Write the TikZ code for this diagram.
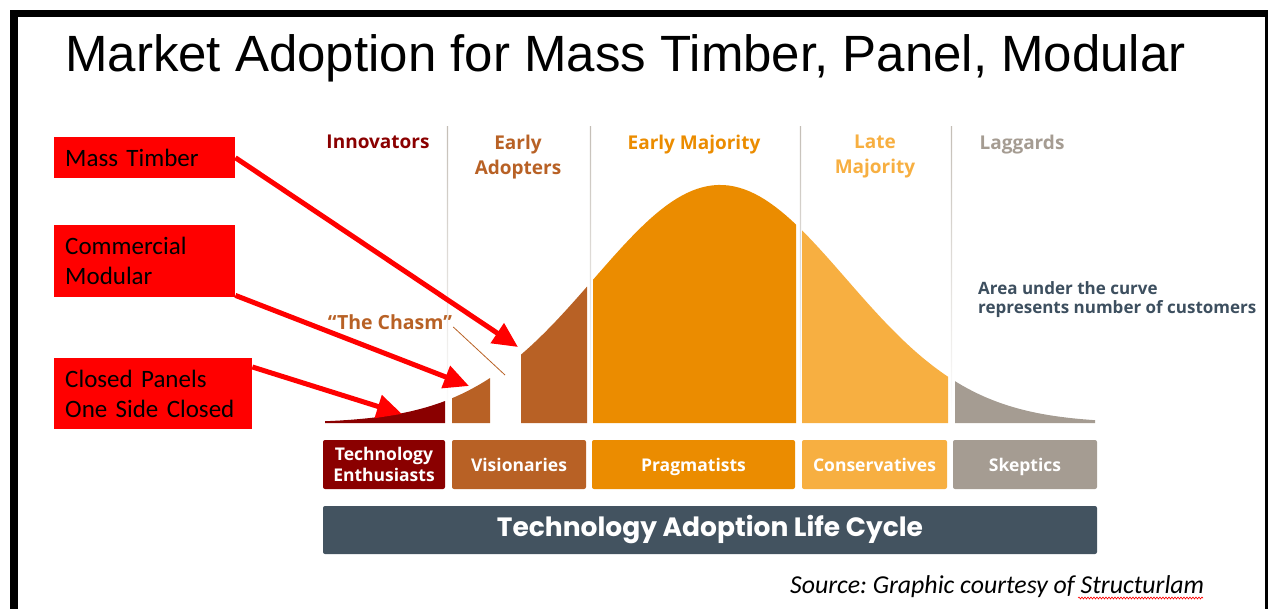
\documentclass[tikz,border=0pt]{standalone}
\usepackage{fontspec}
\setmainfont{Carlito}
\newfontfamily\titlefont{Liberation Sans}
\newfontfamily\labfont{Open Sans}
\newfontfamily\barfont{Poppins}
\usepackage{tikz}
\usetikzlibrary{arrows.meta,positioning,calc,decorations.pathmorphing}
\usepackage{xcolor}
\frenchspacing

\definecolor{innov}{HTML}{8A0000}
\definecolor{adopt}{HTML}{B86125}
\definecolor{earlymaj}{HTML}{EB8C00}
\definecolor{latemaj}{HTML}{F7AF41}
\definecolor{lagg}{HTML}{A59C92}
\definecolor{cyclebar}{HTML}{435360}
\definecolor{areatext}{HTML}{3D4F5F}
\definecolor{sepline}{HTML}{C4BEB6}

% one slice of the bell curve: from, to, colour
\newcommand{\curveslice}[3]{%
  \fill[#3] (#1,423) -- plot[domain=#1:#2, samples=40]
    (\x, {423-238*exp(-0.5*((\x-720)/126)^2)}) -- (#2,423) -- cycle;}

\begin{document}
\begin{tikzpicture}[x=1pt, y=-1pt,
    tagbox/.style={fill=red, anchor=north west, align=left, inner xsep=11pt,
      font=\fontsize{25}{30}\selectfont},
    tagarrow/.style={red, line width=5pt, -{Triangle[length=25pt, width=23pt]}},
    phase/.style={font=\labfont\bfseries\fontsize{19}{25}\selectfont,
      align=center, anchor=north, inner sep=0pt},
    groupbox/.style={rounded corners=2pt, text=white, align=center, inner sep=0pt,
      minimum height=49pt, text depth=0pt, font=\labfont\bfseries\fontsize{17.5}{21}\selectfont},
    sepbar/.style={top color=sepline, middle color=sepline!70, bottom color=white}]
    \useasboundingbox (0,0) rectangle (1269,609);

    % frame
    \fill (10,10) rectangle (1268,17);
    \fill (10,10) rectangle (18,609);
    \fill (1265,10) rectangle (1268,609);

    \node[anchor=base west, inner sep=0pt, font=\titlefont\fontsize{51}{60}\selectfont]
      (title) at (65,72) {Market Adoption for Mass Timber, Panel, Modular};

    % separators
    \shade[sepbar] (446.8,127) rectangle (448,418);
    \shade[sepbar] (589.8,127) rectangle (591,418);
    \shade[sepbar] (799.8,127) rectangle (801,418);
    \shade[sepbar] (950.8,127) rectangle (952,418);

    % phases
    \node[phase, text=innov] (innovators) at (378,135) {Innovators};
    \node[phase, text=adopt] (adopters) at (518,135) {Early\\Adopters};
    \node[phase, text=earlymaj] (earlymaj) at (694,135) {Early Majority};
    \node[phase, text=latemaj] (latemaj) at (875,135) {Late\\Majority};
    \node[phase, text=lagg] (laggards) at (1022,135) {Laggards};

    % curve
    \curveslice{325}{445}{innov}
    \curveslice{452}{490}{adopt}
    \curveslice{521}{587}{adopt}
    \curveslice{593}{796}{earlymaj}
    \curveslice{802}{948}{latemaj}
    \curveslice{955}{1095}{lagg}

    \node[font=\labfont\bfseries\fontsize{19.5}{25}\selectfont, text=adopt, inner sep=0pt]
      (chasm) at (390,322) {“The Chasm”};
    \coordinate (gap) at (505,375);
    \draw[adopt, line width=0.8pt] ([xshift=1pt,yshift=-5pt]chasm.east) -- (gap);

    \node[font=\labfont\bfseries\fontsize{17}{19}\selectfont, text=areatext, align=left,
      anchor=north west, inner sep=0pt] (area) at (978,281)
      {Area under the curve\\represents number of customers};

    % groups
    \node[groupbox, fill=innov, minimum width=122pt] (enth) at (384,464.5) {Technology\\Enthusiasts};
    \node[groupbox, fill=adopt, minimum width=134pt] (vis) at (519,464.5) {Visionaries};
    \node[groupbox, fill=earlymaj, minimum width=203pt] (prag) at (693.5,464.5) {Pragmatists};
    \node[groupbox, fill=latemaj, minimum width=145pt] (cons) at (874.5,464.5) {Conservatives};
    \node[groupbox, fill=lagg, minimum width=144pt] (skep) at (1025,464.5) {Skeptics};

    \node[rounded corners=2pt, fill=cyclebar, text=white, minimum width=774pt, minimum height=48pt,
      font=\barfont\bfseries\fontsize{26.5}{30}\selectfont] (cycle) at (710,530)
      {Technology Adoption Life Cycle};

    % red tags
    \node[tagbox, minimum height=41pt, text width=159pt] (mt) at (54,137) {Mass Timber};
    \node[tagbox, minimum height=72pt, text width=159pt] (cm) at (54,225) {Commercial\\Modular};
    \node[tagbox, minimum height=71pt, text width=176pt] (cp) at (54,358) {Closed Panels\\One Side Closed};

    \coordinate (mtTip) at (518,347);
    \coordinate (cmTip) at (469,386);
    \coordinate (cpTip) at (402,414);
    \draw[tagarrow] (mt.east) -- (mtTip);
    \draw[tagarrow] ([yshift=2pt]cm.south east) -- (cmTip);
    \draw[tagarrow] ([yshift=-9pt]cp.north east) -- (cpTip);

    \node[anchor=base west, inner sep=0pt, font=\itshape\fontsize{25.8}{30}\selectfont]
      (source) at (790,593) {Source: Graphic courtesy of Structurlam};
    \draw[red, line width=0.6pt, decorate, decoration={snake, amplitude=1pt, segment length=3pt}]
      (1078,598) -- (1203,598);
\end{tikzpicture}
\end{document}
